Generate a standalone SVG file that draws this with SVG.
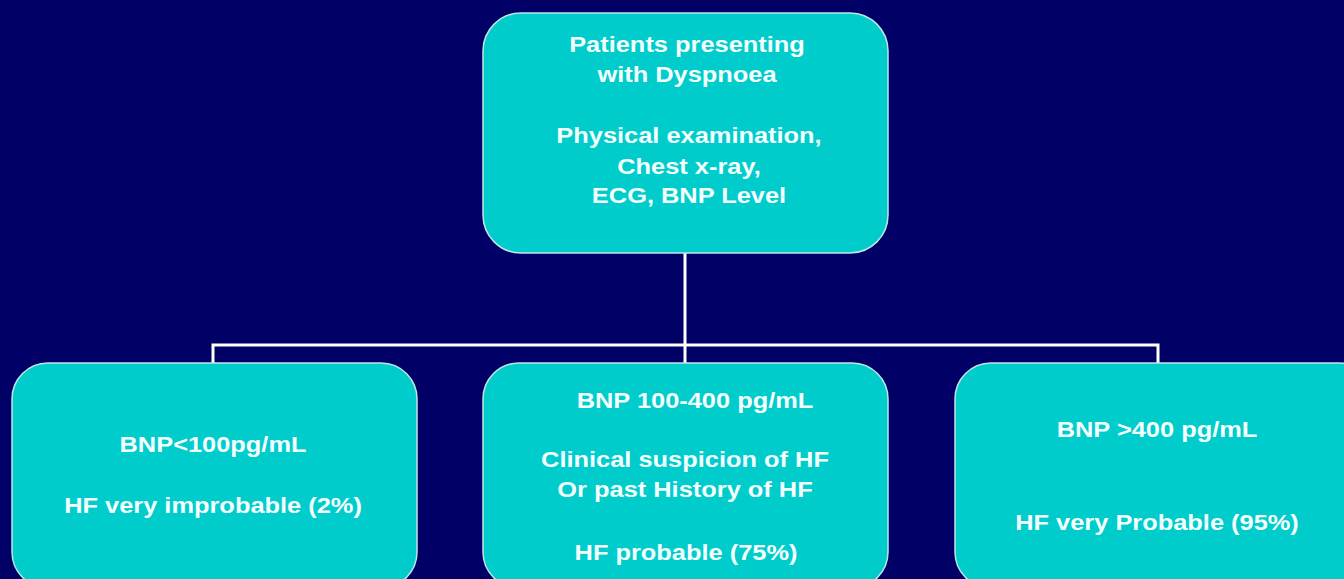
<svg xmlns="http://www.w3.org/2000/svg" width="1344" height="579" viewBox="0 0 1344 579">
<style>
.box{fill:#00cccc;stroke:#bfe6ea;stroke-width:1.5}
.t{font-family:"Liberation Sans",Arial,sans-serif;font-weight:bold;font-size:22px;fill:#f4ffff;text-anchor:middle}
.c{fill:none;stroke:#ffffff;stroke-width:3}
</style>
<rect width="1344" height="579" fill="#000066"/>
<g id="connectors">
<path class="c" d="M685,253 V345 M213,363 V345 H1158 V363 M685,345 V363"/>
</g>
<g id="top">
<rect class="box" x="483" y="13" width="405" height="240" rx="38" ry="38"/>
<text class="t" transform="matrix(1.155 0 0 1 687 52)">Patients presenting</text>
<text class="t" transform="matrix(1.155 0 0 1 687 82)">with Dyspnoea</text>
<text class="t" transform="matrix(1.155 0 0 1 689 143)">Physical examination,</text>
<text class="t" transform="matrix(1.155 0 0 1 689 174)">Chest x-ray,</text>
<text class="t" transform="matrix(1.155 0 0 1 689 203)">ECG, BNP Level</text>
</g>
<g id="left">
<rect class="box" x="12" y="363" width="405" height="225" rx="36" ry="36"/>
<text class="t" transform="matrix(1.155 0 0 1 213 452)">BNP&lt;100pg/mL</text>
<text class="t" transform="matrix(1.155 0 0 1 213 513)">HF very improbable (2%)</text>
</g>
<g id="middle">
<rect class="box" x="483" y="363" width="405" height="225" rx="36" ry="36"/>
<text class="t" transform="matrix(1.155 0 0 1 695 408)">BNP 100-400 pg/mL</text>
<text class="t" transform="matrix(1.155 0 0 1 685 467)">Clinical suspicion of HF</text>
<text class="t" transform="matrix(1.155 0 0 1 685 497)">Or past History of HF</text>
<text class="t" transform="matrix(1.155 0 0 1 686 560)">HF probable (75%)</text>
</g>
<g id="right">
<rect class="box" x="955" y="363" width="420" height="225" rx="36" ry="36"/>
<text class="t" transform="matrix(1.155 0 0 1 1157 437)">BNP &gt;400 pg/mL</text>
<text class="t" transform="matrix(1.155 0 0 1 1157 530)">HF very Probable (95%)</text>
</g>
</svg>
